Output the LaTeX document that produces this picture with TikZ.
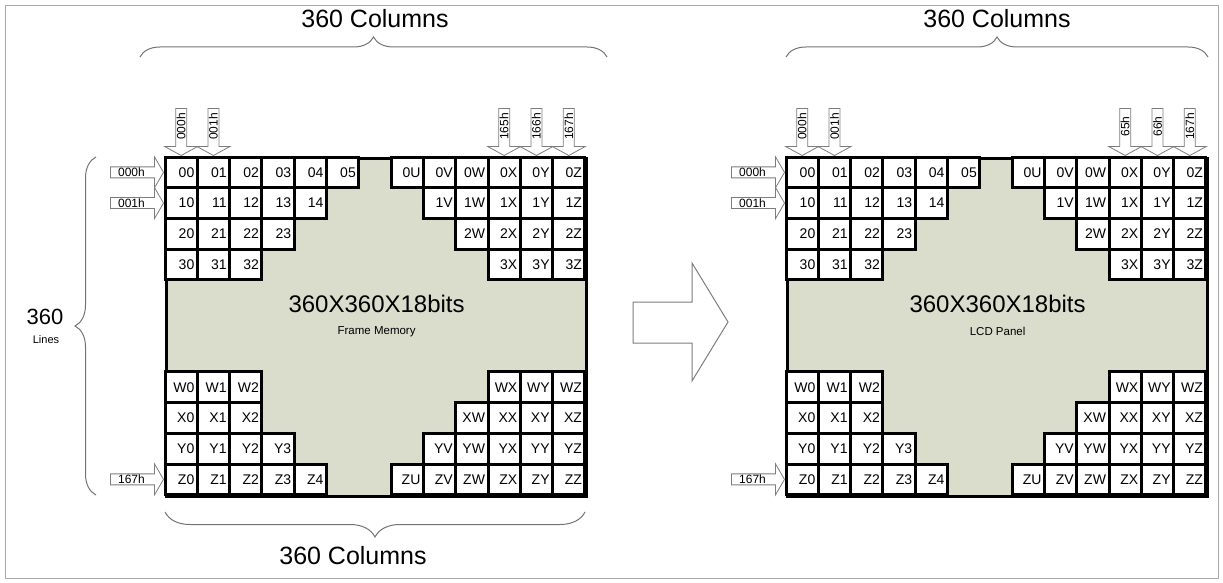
\documentclass[tikz,border=0pt]{standalone}
\usepackage{fontspec}
\setmainfont{Liberation Sans}
\usetikzlibrary{decorations.pathreplacing,calc}
\definecolor{memfill}{RGB}{218,220,204}
\definecolor{arrowline}{RGB}{125,125,125}
\definecolor{braceline}{RGB}{115,115,115}
\definecolor{frameline}{RGB}{170,170,170}
\tikzset{
  memory/.style={draw, line width=3.2pt, fill=memfill, minimum width=420pt,
                 minimum height=338pt, inner sep=0pt},
  cell/.style={draw, line width=3pt, fill=white, text width=26.3pt, align=right,
               inner xsep=3pt, inner ysep=0pt, minimum height=30.7pt,
               font=\fontsize{14}{14}\selectfont},
  addrarrow/.style={draw=arrowline, fill=white, line width=0.8pt},
  addrtext/.style={font=\fontsize{12}{12}\selectfont, inner sep=0pt},
  colbrace/.style={decorate, decoration={brace, amplitude=#1}, draw=braceline,
                   line width=1pt},
  coltext/.style={font=\fontsize{25}{25}\selectfont},
  bigtext/.style={font=\fontsize{24}{24}\selectfont},
  subtext/.style={font=\fontsize{11.5}{11.5}\selectfont},
  colarrow/.pic={
    \path[addrarrow] (-5.5,-47) -- (-5.5,-9) -- (-16.5,-9) -- (0,0) -- (16.5,-9)
      -- (5.5,-9) -- (5.5,-47) -- cycle;
    \node[addrtext, rotate=90] at (0,-29) {#1};
  },
  rowarrow/.pic={
    \path[addrarrow] (-53,-5.5) -- (-9,-5.5) -- (-9,-15.5) -- (0,0) -- (-9,15.5)
      -- (-9,5.5) -- (-53,5.5) -- cycle;
    \node[addrtext] at (-32,0) {#1};
  },
}
\begin{document}
\begin{tikzpicture}[x=1pt, y=-1pt]
  \useasboundingbox (0,0) rectangle (1223,583);
  \draw[frameline] (5,5) rectangle (1218,578);

  %% the two panels: frame memory -> LCD panel
  \foreach \px/\p/\sub/\ta/\tb in {165/L/Frame Memory/165h/166h, 786/R/LCD Panel/65h/66h} {
    \node[memory, anchor=north west] (\p-mem) at (\px,157) {};
    \node[bigtext] (\p-size) at ($(\p-mem.center)+(0,-24)$) {360X360X18bits};
    \node[subtext] (\p-sub) at ($(\p-mem.center)+(0,4)$) {\sub};

    % top left corner
    \foreach \r/\n in {0/5,1/4,2/3,3/2}
      \foreach \c in {0,...,\n}
        \node[cell] (\p-\r-\c) at ({\px+32.3*(\c+0.5)},{157+30.7*(\r+0.5)}) {\r\c};
    % top right corner
    \foreach \r in {0,...,3}
      \foreach \c/\L in {7/U,8/V,9/W,10/X,11/Y,12/Z} {
        \ifnum\c<\numexpr7+\r\relax\else
          \node[cell] (\p-\r-\c) at ({\px+32.3*(\c+0.5)},{157+30.7*(\r+0.5)}) {\r\L};
        \fi
      }
    % bottom left corner
    \foreach \r/\R/\n in {7/W/2,8/X/2,9/Y/3,10/Z/4}
      \foreach \c in {0,...,\n}
        \node[cell] (\p-\r-\c) at ({\px+32.3*(\c+0.5)},{157+30.7*(\r+0.5)}) {\R\c};
    % bottom right corner
    \foreach \r/\R in {7/W,8/X,9/Y,10/Z}
      \foreach \c/\L in {7/U,8/V,9/W,10/X,11/Y,12/Z} {
        \ifnum\c<\numexpr17-\r\relax\else
          \node[cell] (\p-\r-\c) at ({\px+32.3*(\c+0.5)},{157+30.7*(\r+0.5)}) {\R\L};
        \fi
      }

    % address arrows
    \pic at (\p-0-0.north) {colarrow=000h};
    \pic at (\p-0-1.north) {colarrow=001h};
    \pic at (\p-0-10.north) {colarrow=\ta};
    \pic at (\p-0-11.north) {colarrow=\tb};
    \pic at (\p-0-12.north) {colarrow=167h};
    \pic at (\p-0-0.west) {rowarrow=000h};
    \pic at (\p-1-0.west) {rowarrow=001h};
    \pic at (\p-10-0.west) {rowarrow=167h};
  }

  %% braces and their labels
  \coordinate (Ltop-a) at (140,57);
  \coordinate (Ltop-b) at (607,57);
  \draw[colbrace=20pt] (Ltop-a) -- (Ltop-b);
  \node[coltext] (Ltop-t) at (375,19) {360 Columns};

  \coordinate (Rtop-a) at (786,57);
  \coordinate (Rtop-b) at (1208,57);
  \draw[colbrace=20pt] (Rtop-a) -- (Rtop-b);
  \node[coltext] (Rtop-t) at (997,19) {360 Columns};

  \coordinate (Lbot-a) at (585,512);
  \coordinate (Lbot-b) at (165,512);
  \draw[colbrace=25pt] (Lbot-a) -- (Lbot-b);
  \node[coltext] (Lbot-t) at (353,556) {360 Columns};

  \coordinate (Lside-a) at (96,495);
  \coordinate (Lside-b) at (96,157);
  \draw[colbrace=21pt] (Lside-a) -- (Lside-b);
  \node[font=\fontsize{22}{22}\selectfont] (Lside-t) at (45,317) {360};
  \node[font=\fontsize{11}{11}\selectfont] (Lside-u) at (46,340) {Lines};

  %% big arrow between the panels
  \draw[arrowline, line width=1pt] (633,302) -- (692,302) -- (692,263) -- (728,322)
    -- (692,381) -- (692,343) -- (633,343) -- cycle;
\end{tikzpicture}
\end{document}
